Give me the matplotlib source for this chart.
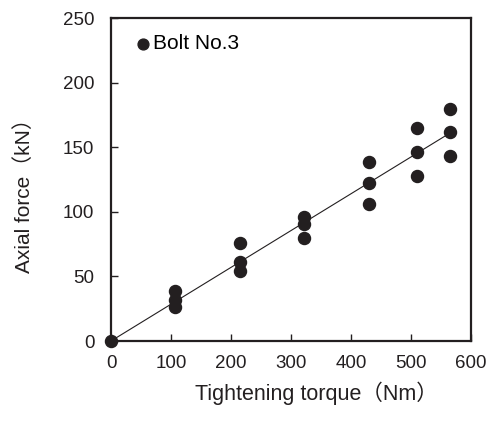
import matplotlib
matplotlib.use("Agg")
import matplotlib.pyplot as plt

plt.rcParams['font.family'] = ['Liberation Sans', 'Noto Sans CJK JP', 'DejaVu Sans']

# measured axial force for each tightening torque step
torque = [0,
          107, 107, 107,
          215, 215, 215,
          322, 322, 322,
          430, 430, 430,
          510, 510, 510,
          565, 565, 565]
force = [0,
         39, 31.5, 26.5,
         75.5, 61.5, 54.5,
         96, 90.5, 79.5,
         138.5, 122.5, 106,
         165, 146, 128,
         179.5, 161.5, 143]

# fitted line through the origin
slope = 0.285
fit_x = [0, 565]
fit_y = [slope * t for t in fit_x]

ink = '#231f20'

fig = plt.figure(figsize=(4.94, 4.21), dpi=100)
ax = fig.add_axes([0.2247, 0.19, 0.7287, 0.767])

ax.plot(fit_x, fit_y, color=ink, lw=0.8, zorder=2)
ax.scatter(torque, force, s=75, color=ink, zorder=3, label='Bolt No.3',
           clip_on=False)

ax.set_xlim(0, 600)
ax.set_ylim(0, 250)
ax.set_xticks(range(0, 601, 100))
ax.set_yticks(range(0, 251, 50))
ax.tick_params(direction='in', length=5, width=1, colors=ink,
               labelsize=13.5)
ax.tick_params(axis='x', pad=10)
ax.tick_params(axis='y', pad=12)
for s in ax.spines.values():
    s.set_linewidth(1.6)
    s.set_color(ink)

ax.set_xlabel('Tightening torque（Nm）', fontsize=15.5, color=ink)
ax.set_ylabel('Axial force（kN）', fontsize=15, color=ink)
ax.xaxis.set_label_coords(0.57, -0.125)
ax.yaxis.set_label_coords(-0.215, 0.465)

ax.legend(loc='upper left', frameon=False, fontsize=15, handletextpad=-0.02,
          handlelength=1.0, borderaxespad=0.3, scatterpoints=1,
          markerscale=0.9, bbox_to_anchor=(0.02, 0.995))

fig.savefig('out.png', dpi=100)
